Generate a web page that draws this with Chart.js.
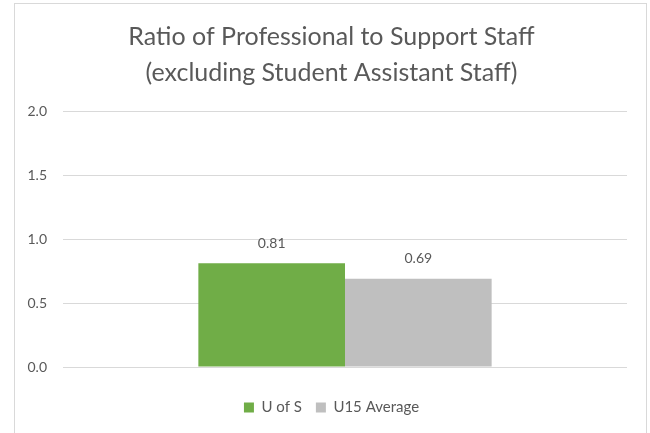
<!DOCTYPE html>
<html>
<head>
    <title>Ratio of Professional to Support Staff</title>
    <script src="https://cdn.jsdelivr.net/npm/chart.js"></script>
    <style>
        body {
            margin: 0;
            background: white;
        }
        .frame {
            position: absolute;
            left: 14px;
            top: 3px;
            width: 631px;
            height: 440px;
            border: 1px solid #d9d9d9;
        }
        .chart-container {
            position: absolute;
            left: 0;
            top: 0;
            width: 650px;
            height: 433px;
        }
    </style>
</head>
<body>
    <div class="frame"></div>
    <div class="chart-container">
        <canvas id="staffChart"></canvas>
    </div>

    <script>
        // Data
        const categories = [''];
        const seriesNames = ['U of S', 'U15 Average'];
        const uOfS = [0.81];
        const u15Average = [0.69];
        const yTicks = [0, 0.5, 1.0, 1.5, 2.0];

        const textColor = '#595959';
        const fontFamily = 'Lato, "Liberation Sans", sans-serif';

        // draws the value above each bar
        const valueLabels = {
            id: 'valueLabels',
            afterDatasetsDraw(chart) {
                const ctx = chart.ctx;
                ctx.save();
                ctx.font = '14px ' + fontFamily;
                ctx.fillStyle = textColor;
                ctx.textAlign = 'center';
                ctx.textBaseline = 'bottom';
                chart.data.datasets.forEach((ds, i) => {
                    chart.getDatasetMeta(i).data.forEach((bar, j) => {
                        ctx.fillText(ds.data[j].toFixed(2), bar.x, bar.y - 13);
                    });
                });
                ctx.restore();
            }
        };

        const ctx = document.getElementById('staffChart').getContext('2d');
        new Chart(ctx, {
            type: 'bar',
            data: {
                labels: categories,
                datasets: [{
                    label: seriesNames[0],
                    data: uOfS,
                    backgroundColor: '#70AD47'
                }, {
                    label: seriesNames[1],
                    data: u15Average,
                    backgroundColor: '#BFBFBF'
                }]
            },
            options: {
                responsive: true,
                maintainAspectRatio: false,
                animation: false,
                barPercentage: 1,
                categoryPercentage: 0.52,
                layout: {
                    padding: { top: 19, right: 5, bottom: 8, left: 18 }
                },
                plugins: {
                    title: {
                        display: true,
                        text: ['Ratio of Professional to Support Staff', '(excluding Student Assistant Staff)'],
                        color: textColor,
                        font: { family: fontFamily, size: 25, weight: 'normal', lineHeight: 1.44 },
                        padding: { top: 0, bottom: 20 }
                    },
                    legend: {
                        position: 'bottom',
                        labels: {
                            boxWidth: 10,
                            boxHeight: 10,
                            color: textColor,
                            font: { family: fontFamily, size: 15 },
                            padding: 14
                        }
                    },
                    tooltip: { enabled: false }
                },
                scales: {
                    x: {
                        grid: { display: false },
                        border: { display: false },
                        ticks: { display: false },
                        afterFit: scale => { scale.height = 19; }
                    },
                    y: {
                        min: 0,
                        max: 2,
                        afterBuildTicks: scale => {
                            scale.ticks = yTicks.map(v => ({ value: v }));
                        },
                        ticks: {
                            color: textColor,
                            font: { family: fontFamily, size: 14 },
                            padding: 16,
                            callback: v => v.toFixed(1)
                        },
                        grid: {
                            color: '#d9d9d9',
                            drawTicks: false
                        },
                        border: { display: false },
                        afterFit: scale => { scale.width = 45; }
                    },
                    // empty axis that only keeps room on the right
                    yRight: {
                        position: 'right',
                        display: true,
                        min: 0,
                        max: 2,
                        ticks: { display: false },
                        grid: { display: false },
                        border: { display: false },
                        afterFit: scale => { scale.width = 18; }
                    }
                }
            },
            plugins: [valueLabels]
        });
    </script>
</body>
</html>
